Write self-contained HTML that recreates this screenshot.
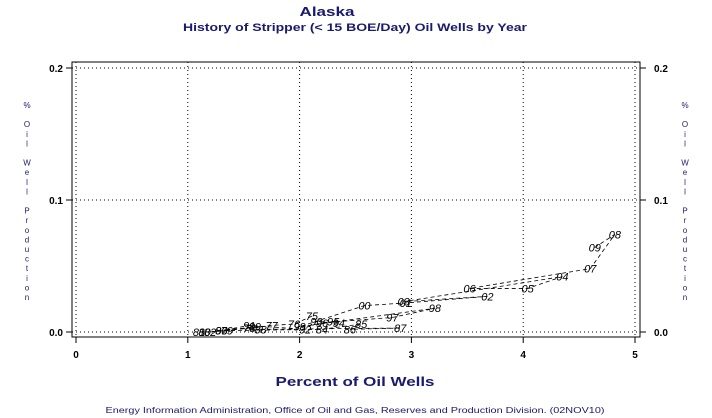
<!DOCTYPE html>
<html><head><meta charset="utf-8"><style>
body{margin:0;background:#fff;}
svg{display:block;font-family:"Liberation Sans",sans-serif;}
</style></head><body>
<svg id="c" width="712" height="418">
<text x="327" y="16" text-anchor="middle" font-size="13" font-weight="bold" fill="#1a1a6e" textLength="55" lengthAdjust="spacingAndGlyphs">Alaska</text>
<text x="355" y="31" text-anchor="middle" font-size="11" font-weight="bold" fill="#1a1a6e" textLength="344" lengthAdjust="spacingAndGlyphs">History of Stripper (&lt; 15 BOE/Day) Oil Wells by Year</text>
<rect x="72" y="62" width="568" height="275" fill="none" stroke="#000"/>
<g id="grid"></g>
<g id="axes"></g>
<g id="marks"></g>
<text x="355" y="386" text-anchor="middle" font-size="13" font-weight="bold" fill="#1a1a6e" textLength="159" lengthAdjust="spacingAndGlyphs">Percent of Oil Wells</text>
<text x="355" y="413" text-anchor="middle" font-size="8" fill="#1a1a6e" textLength="499" lengthAdjust="spacingAndGlyphs">Energy Information Administration, Office of Oil and Gas, Reserves and Production Division. (02NOV10)</text>
<g id="ytl"></g>
<g id="ytr"></g>
</svg>
<script>
const years=['75','76','77','78','79','80','81','82','83','84','85','86','87','88','89','90','91','92','93','94','95','96','97','98','99','00','01','02','03','04','05','06','07','08','09'];
const xVals=[2.11,1.95,1.75,1.55,1.35,1.15,1.10,1.20,1.30,2.20,2.55,2.45,2.90,1.65,1.60,1.30,1.55,2.05,2.15,2.35,2.30,2.20,2.83,3.21,2.00,2.58,2.95,3.68,2.93,4.35,4.04,3.52,4.60,4.82,4.64];
const yVals=[0.012,0.006,0.005,0.003,0.001,0.000,0.000,0.000,0.001,0.002,0.006,0.002,0.003,0.002,0.004,0.001,0.005,0.002,0.008,0.007,0.008,0.007,0.011,0.018,0.004,0.020,0.022,0.027,0.023,0.042,0.033,0.033,0.048,0.074,0.064];
const xTicks=[0,1,2,3,4,5];
const yTicks=[0,0.1,0.2];
const yTickLabels=['0.0','0.1','0.2'];
const NS='http://www.w3.org/2000/svg';
const X=v=>76+v*111.8, Y=v=>332-v*1320;
function mk(t,a,p){const e=document.createElementNS(NS,t);for(const k in a)e.setAttribute(k,a[k]);p.appendChild(e);return e;}
const grid=document.getElementById('grid'),axes=document.getElementById('axes'),marks=document.getElementById('marks');
xTicks.forEach(v=>{
 const g=mk('line',{x1:X(v),x2:X(v),y1:62,y2:337,stroke:'#000','stroke-dasharray':'1,3'},grid);
 
 
 const t=mk('line',{x1:X(v),x2:X(v),y1:337,y2:343,stroke:'#000'},axes);
 
 
 const l=mk('text',{x:X(v),y:358,'text-anchor':'middle','font-size':'10','font-weight':'bold'},axes);l.textContent=v;
 
 
});
yTicks.forEach((v,i)=>{
 const g=mk('line',{x1:72,x2:640,y1:Y(v),y2:Y(v),stroke:'#000','stroke-dasharray':'1,3'},grid);
 
 
 [[66,72],[640,646]].forEach(([a,b])=>{const t=mk('line',{x1:a,x2:b,y1:Y(v),y2:Y(v),stroke:'#000'},axes);
 
 });
 const l=mk('text',{x:63,y:Y(v)+4,'text-anchor':'end','font-size':'10','font-weight':'bold'},axes);l.textContent=yTickLabels[i];
 
 
 const r=mk('text',{x:654,y:Y(v)+4,'font-size':'10','font-weight':'bold'},axes);r.textContent=yTickLabels[i];
 
 
});
let d='';
xVals.forEach((v,i)=>{d+=(i?'L':'M')+X(v)+' '+Y(yVals[i]);});
const p=mk('path',{d:d,fill:'none',stroke:'#000','stroke-width':'0.8','stroke-dasharray':'4,3'},marks);


years.forEach((y,i)=>{
 const t=mk('text',{x:X(xVals[i]),y:Y(yVals[i])+4,'text-anchor':'middle','font-size':'11','font-style':'italic',fill:'#000'},marks);
 t.textContent=y;
 
 
});
const letters='% Oil Well Production'.split('');
['ytl','ytr'].forEach((id,j)=>{const g=document.getElementById(id);
 letters.forEach((c,i)=>{if(c===' ')return;const t=mk('text',{x:j?685:27,y:108+i*9.6,'text-anchor':'middle','font-size':'8',fill:'#1a1a6e'},g);t.textContent=c;});});
</script>
</body></html>
